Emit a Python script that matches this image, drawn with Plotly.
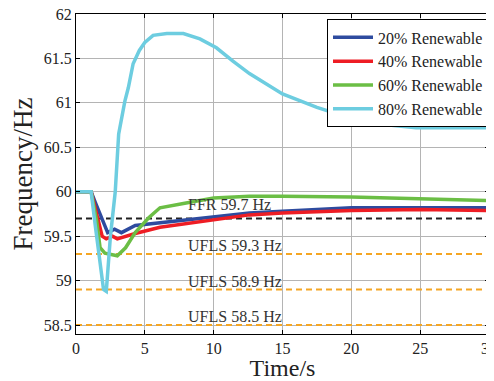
import plotly.graph_objects as go

# ---- data ----
t20 = [0, 1.1, 1.4, 1.75, 2.0, 2.3, 2.8, 3.3, 4.3, 6.1, 8, 10, 12.6, 15, 17.5, 20, 25, 30]
f20 = [60, 60, 59.88, 59.75, 59.64, 59.54, 59.58, 59.54, 59.62, 59.65, 59.68, 59.71, 59.76, 59.78, 59.8, 59.82, 59.82, 59.82]

t40 = [0, 1.1, 1.5, 1.9, 2.2, 2.65, 3.0, 3.6, 4.3, 6.1, 8, 10, 12.6, 15, 20, 25, 30]
f40 = [60, 60, 59.75, 59.5, 59.47, 59.5, 59.47, 59.5, 59.53, 59.6, 59.64, 59.68, 59.74, 59.76, 59.79, 59.8, 59.79]

t60 = [0, 1.1, 1.5, 1.75, 2.1, 3.0, 3.6, 4.3, 5.3, 6.1, 7.9, 10, 12.6, 15, 20, 25, 30]
f60 = [60, 60, 59.67, 59.37, 59.31, 59.28, 59.37, 59.54, 59.71, 59.82, 59.87, 59.93, 59.95, 59.95, 59.94, 59.92, 59.9]

t80 = [0, 1.1, 1.4, 1.7, 2.0, 2.2, 2.5, 2.85, 3.1, 3.55, 3.8, 4.15, 4.6, 5.0, 5.6, 6.6, 7.8, 9.0,
       10.2, 11.4, 12.6, 15.0, 17.5, 19.9, 22.2, 24.7, 27, 30]
f80 = [60, 60, 59.62, 59.24, 58.9, 58.88, 59.5, 60.0, 60.65, 61.02, 61.17, 61.44, 61.59, 61.68, 61.76,
       61.78, 61.78, 61.72, 61.62, 61.47, 61.33, 61.1, 60.95, 60.83, 60.76, 60.72, 60.72, 60.72]

series_names = ["20% Renewable", "40% Renewable", "60% Renewable", "80% Renewable"]
series_colors = ["#2E4B9F", "#EE1D24", "#6BBE45", "#6DCDE0"]

ref_levels = [59.7, 59.3, 58.9, 58.5]
ref_labels = ["FFR 59.7 Hz", "UFLS 59.3 Hz", "UFLS 58.9 Hz", "UFLS 58.5 Hz"]
ref_colors = ["#222222", "#F5A623", "#F5A623", "#F5A623"]

x_range = [0, 30]
y_range = [58.4, 62]
x_ticks = [0, 5, 10, 15, 20, 25, 30]
y_ticks = [58.5, 59, 59.5, 60, 60.5, 61, 61.5, 62]
y_ticklabels = ["58.5", "59", "59.5", "60", "60.5", "61", "61.5", "62"]

FONT = "Liberation Serif, Times New Roman, serif"

fig = go.Figure()

for lvl, col in zip(ref_levels, ref_colors):
    fig.add_trace(go.Scatter(x=x_range, y=[lvl, lvl], mode="lines", showlegend=False,
                             hoverinfo="skip",
                             line=dict(color=col, width=2, dash="6px,4px")))

for tt, ff, name, col in zip([t20, t40, t60, t80], [f20, f40, f60, f80], series_names, series_colors):
    fig.add_trace(go.Scatter(x=tt, y=ff, mode="lines", name=name,
                             line=dict(color=col, width=3.5)))

for lvl, lab in zip(ref_levels, ref_labels):
    fig.add_annotation(x=8, y=lvl, text=lab, showarrow=False, xanchor="left", yanchor="bottom",
                       yshift=(3 if lab.startswith("FFR") else -2),
                       font=dict(family=FONT, size=16, color="#333333"))

axis_common = dict(showline=True, linecolor="black", linewidth=1, mirror="ticks",
                   ticks="inside", ticklen=4, tickcolor="black",
                   showgrid=True, gridcolor="#b4b4b4", gridwidth=1, zeroline=False,
                   ticklabeloverflow="allow",
                   tickfont=dict(family=FONT, size=16, color="#222222"))

fig.update_xaxes(range=x_range, tickvals=x_ticks,
                 title=dict(text="Time/s", font=dict(family=FONT, size=24, color="#222222"), standoff=0),
                 **axis_common)
fig.update_yaxes(range=y_range, tickvals=y_ticks, ticktext=y_ticklabels,
                 title=dict(text="Frequency/Hz", font=dict(family=FONT, size=27, color="#222222"), standoff=8),
                 **axis_common)

# page body has an 8px margin, so the figure is sized/offset to compensate
fig.update_layout(
    width=486, height=373,
    margin=dict(l=68, r=5, t=6, b=47, autoexpand=False),
    paper_bgcolor="white", plot_bgcolor="white",
    font=dict(family=FONT, color="#222222"),
    legend=dict(x=1, y=0.983, xanchor="right", yanchor="top",
                bgcolor="white", bordercolor="black", borderwidth=1,
                font=dict(family=FONT, size=16, color="#222222"),
                itemwidth=40, tracegroupgap=0),
)

fig.write_html("out.html")
